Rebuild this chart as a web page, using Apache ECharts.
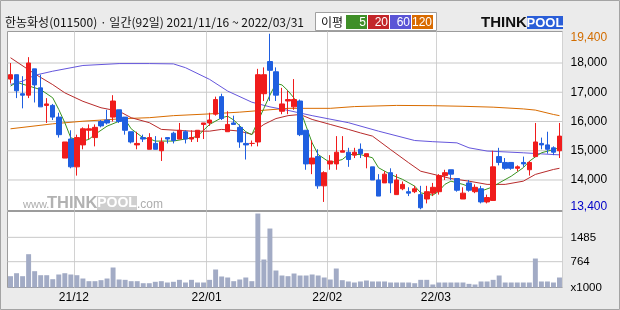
<!DOCTYPE html>
<html><head><meta charset="utf-8">
<script src="https://cdn.jsdelivr.net/npm/echarts@6/dist/echarts.min.js"></script>
<style>html,body{margin:0;padding:0;background:#ebebeb}#c{width:620px;height:310px}</style>
</head><body><div id="c"></div>
<script>
const dates = [
'21/11/16','21/11/17','21/11/18','21/11/19','21/11/22','21/11/23','21/11/24','21/11/25','21/11/26','21/11/29','21/11/30',
'21/12/01','21/12/02','21/12/03','21/12/06','21/12/07','21/12/08','21/12/09','21/12/10','21/12/13','21/12/14','21/12/15','21/12/16','21/12/17','21/12/20','21/12/21','21/12/22','21/12/23','21/12/24','21/12/27','21/12/28','21/12/29','21/12/30',
'22/01/03','22/01/04','22/01/05','22/01/06','22/01/07','22/01/10','22/01/11','22/01/12','22/01/13','22/01/14','22/01/17','22/01/18','22/01/19','22/01/20','22/01/21','22/01/24','22/01/25','22/01/26','22/01/27','22/01/28',
'22/02/03','22/02/04','22/02/07','22/02/08','22/02/09','22/02/10','22/02/11','22/02/14','22/02/15','22/02/16','22/02/17','22/02/18','22/02/21','22/02/22','22/02/23','22/02/24','22/02/25','22/02/28',
'22/03/02','22/03/03','22/03/04','22/03/07','22/03/08','22/03/10','22/03/11','22/03/14','22/03/15','22/03/16','22/03/17','22/03/18','22/03/21','22/03/22','22/03/23','22/03/24','22/03/25','22/03/28','22/03/29','22/03/30','22/03/31'];

const open = [17450,17600,16950,16900,17800,17150,16550,16550,16150,14750,
15400,14450,15200,15700,15450,16000,16050,16150,16400,16150,
15650,15200,15450,15050,15250,15000,15450,15600,15400,15650,
15400,15450,15900,15950,16250,16850,15650,15950,15800,15250,
15250,15300,16950,18050,17700,16350,16700,16500,16700,15700,
14550,14800,13800,14550,14550,14950,14950,14850,15050,14800,
14450,14000,13900,14250,13500,13700,13600,13600,13500,13350,
13550,13600,14150,14350,14050,13350,13900,13600,13700,13250,
13300,14800,14600,14600,14400,14600,14350,14800,15250,15200,
15100,15000];
const close = [17600,17050,16900,18000,17250,16500,16600,16150,15550,15300,
14450,15450,15750,15750,15800,15850,15950,16700,16000,15700,
15300,15250,15400,15450,15050,15300,15400,15350,15700,15400,
15450,15700,15950,16050,16750,16100,15900,15900,15300,15200,
15250,17600,17600,17750,16900,16600,16750,16750,15550,14550,
14750,13800,14250,14650,14950,15000,14700,14950,14900,14900,
14000,13450,14200,13900,14000,13850,13550,13700,13050,13600,
13750,14150,14250,14200,13650,13550,13650,13750,13250,13400,
14450,14600,14400,14400,14450,14550,14600,15300,15200,15050,
14950,15500];
const low = [17300,16800,16450,16800,16650,16500,15950,16050,15450,14750,
14400,14150,15050,15400,15150,15800,15900,16000,15950,15550,
15250,15050,15300,15050,15050,14650,15250,15250,15400,15250,
15300,15300,15400,15850,16200,16050,15650,15900,15100,14700,
15150,15150,16700,16700,16700,16250,16250,16400,15500,14350,
14200,13700,13250,14350,14350,14950,14450,14750,14750,14400,
14000,13450,13900,13550,13500,13650,13450,13550,13000,13200,
13450,13500,14000,14000,13600,13350,13600,13550,13200,13200,
13300,14500,14350,14350,14300,14450,14150,14800,15050,14900,
14850,14750];
const high = [18000,17600,17550,18200,17800,17600,16800,16600,16300,15300,
15700,15550,15800,15900,15900,16050,16400,16900,16400,16150,
15650,15650,15550,15600,15500,15450,15450,15650,15950,15700,
15700,15700,15950,16300,16850,16950,16350,16200,15900,15650,
15350,17800,17850,19000,17850,17150,17050,17450,16750,15700,
15350,15050,14300,14850,15500,15500,15100,15100,15250,14900,
14450,14200,14300,14400,14200,13950,13750,13800,13800,13800,
13900,14200,14350,14350,14050,13750,14000,13850,13800,13500,
15000,15100,14750,14600,14500,14800,14650,15950,15450,15650,
15150,15950];
const volume = [335,423,335,986,483,364,364,246,385,423,
385,364,266,187,187,217,266,592,237,227,
187,187,127,127,169,187,148,169,227,148,
227,148,148,227,533,326,296,187,237,296,
187,2190,829,1746,503,355,335,414,355,355,
385,355,296,237,562,217,178,148,178,207,
178,178,178,148,148,148,148,127,227,227,
89,148,148,148,148,148,108,89,178,178,
227,355,148,148,148,148,148,858,178,178,
148,296];

const ma5Pts = [[0,17210],[1,17340],[5,17090],[7,16810],[8,16410],[9,15960],[10,15440],[12,15330],[13,15390],[14,15560],[16,15840],[18,16010],[19,16070],[20,15750],[22,15440],[23,15410],[24,15330],[27,15330],[30,15440],[31,15500],[33,15900],[35,16130],[36,16180],[37,16050],[38,15850],[39,15650],[40,15550],[41,16000],[42,16450],[43,16900],[44,17300],[45,17250],[46,17050],[47,16800],[48,16410],[49,15840],[50,15270],[51,14870],[53,14590],[55,14700],[56,14870],[58,14870],[60,14760],[61,14420],[63,14190],[65,14020],[67,13790],[68,13560],[70,13480],[71,13620],[72,13850],[73,13960],[75,13850],[77,13700],[78,13620],[80,13770],[81,13900],[83,14130],[85,14420],[86,14640],[87,14790],[88,14930],[90,15040],[91,15100]];
const ma20Pts = [[0,18180],[4,17630],[7,17260],[9,16980],[12,16690],[15,16470],[18,16350],[20,16130],[23,15960],[25,15730],[30,15670],[33,15670],[35,15730],[38,15670],[40,15560],[41,15750],[42,15900],[44,16100],[46,16200],[48,16240],[50,16070],[53,15900],[56,15730],[58,15610],[60,15500],[63,15040],[66,14590],[68,14300],[71,14150],[73,14050],[76,13960],[79,13850],[82,13850],[85,13960],[87,14190],[90,14360],[91,14400]];
const ma60Pts = [[0,17265],[2,17380],[4,17580],[7,17720],[12,17915],[18,17980],[23,17980],[27,17970],[29,17840],[33,17440],[36,17040],[40,16660],[43,16500],[46,16380],[50,16200],[56,15960],[61,15670],[67,15350],[70,15310],[74,15270],[76,15100],[79,14990],[85,14930],[90,14870],[91,14860]];
const ma120Pts = [[0,15750],[7,15920],[12,16010],[19,16100],[23,16130],[27,16200],[33,16260],[38,16320],[46,16450],[53,16450],[57,16510],[64,16550],[70,16540],[75,16520],[80,16490],[85,16430],[87,16390],[90,16240],[91,16200]];

const priceTicks = [14000,15000,16000,17000,18000];
const priceHighLabel = '19,400';
const priceLowLabel = '13,400';
const volTicks = [764,1485];
const volUnitLabel = 'x1000';
const monthTickIdx = [11,33,53,71];
const monthTickLabels = ['21/12','22/01','22/02','22/03'];
const titleText = '한농화성(011500) · 일간(92일) 2021/11/16 ~ 2022/03/31';
const legendNames = ['5','20','60','120'];

const PMIN = 12957, PMAX = 19077, VMAX = 2250;
const C_UP = '#f01c1c', C_DN = '#1f5fe0';
const MA_COL = ['#3a9420','#b82b2b','#6556dc','#d96c00'];
const LEG_COL = ['#3f8f28','#c3262a','#5b55d6','#d96b00'];
const GRID_COL = '#d2d2d2';
const FONT = '"Liberation Sans", Arial, sans-serif';

const candles = open.map((o,i)=>[o, close[i], low[i], high[i]]);
const fmt = v => String(v).replace(/\B(?=(\d{3})+(?!\d))/g, ',');
const lastIdx = dates.length - 1;

const chart = echarts.init(document.getElementById('c'));
const grid0 = {left:7.5, top:31.5, width:555, height:179};
const grid1 = {left:7.5, top:211.5, width:555, height:76};
const splitX = {show:true, interval:(i)=>monthTickIdx.includes(i), lineStyle:{color:GRID_COL, width:1}};

function maSeries(pts, col){
  return {type:'line', data:pts, xAxisIndex:0, yAxisIndex:0, symbol:'none', connectNulls:true,
    lineStyle:{color:col, width:1}, z:3, silent:true};
}
// horizontal grid lines: one flat line per tick value, on an edge-to-edge helper x axis
function gridLineSeries(xIdx, yIdx, ticks){
  return ticks.map(t=>({type:'line', xAxisIndex:xIdx, yAxisIndex:yIdx, data:[[0,t],[lastIdx,t]],
    symbol:'none', silent:true, z:1, lineStyle:{color:'#c8c8c8', width:1}}));
}

const legendGraphics = [];
legendGraphics.push({type:'rect', shape:{x:315.5, y:12.5, width:121, height:18}, style:{fill:'#fff', stroke:'#a0a0a0', lineWidth:1}});
legendGraphics.push({type:'text', x:321, y:22, style:{text:'이평', fill:'#111', font:'12px "Noto Sans CJK KR"', textVerticalAlign:'middle', verticalAlign:'middle'}});
const legX = [346,368,390,412];
const legW = [21,21,21,21];
legendNames.forEach((n,k)=>{
  legendGraphics.push({type:'rect', shape:{x:legX[k], y:15, width:legW[k], height:14}, style:{fill:LEG_COL[k]}});
  legendGraphics.push({type:'text', x:legX[k]+legW[k]-1, y:22.5, style:{text:n, fill:'#fff', font:'12px '+FONT, textAlign:'right', align:'right', textVerticalAlign:'middle', verticalAlign:'middle'}});
});

const baseGraphics = [
  {type:'rect', z:100, shape:{x:0.5, y:0.5, width:619, height:309}, style:{fill:'none', stroke:'#a4a4a4', lineWidth:1}},
  {type:'text', x:5, y:22, style:{text:titleText, fill:'#111', font:'12px "Noto Sans CJK KR"', textVerticalAlign:'middle', verticalAlign:'middle'}},
  ...legendGraphics,
  {type:'text', x:481, y:23, style:{text:'THINK', fill:'#111', font:'bold 15px '+FONT, textVerticalAlign:'middle', verticalAlign:'middle'}},
  {type:'rect', shape:{x:527, y:16, width:36, height:13}, style:{fill:'#2a5ed8'}},
  {type:'text', x:545, y:23, style:{text:'POOL', fill:'#fff', font:'bold 13px '+FONT, textAlign:'center', align:'center', textVerticalAlign:'middle', verticalAlign:'middle'}},
  {type:'text', z:1, x:23, y:205, style:{text:'www.', fill:'#adadad', font:'11px '+FONT, textVerticalAlign:'middle', verticalAlign:'middle'}},
  {type:'text', z:1, x:47, y:203.5, style:{text:'THINK', fill:'#b2b2b2', font:'bold 16.5px '+FONT, textVerticalAlign:'middle', verticalAlign:'middle'}},
  {type:'rect', z:1, shape:{x:97, y:196, width:40, height:14}, style:{fill:'#cfcfcf'}},
  {type:'text', z:1, x:117, y:203.5, style:{text:'POOL', fill:'#fff', font:'bold 14px '+FONT, textAlign:'center', align:'center', textVerticalAlign:'middle', verticalAlign:'middle'}},
  {type:'text', z:1, x:137, y:205, style:{text:'.com', fill:'#adadad', font:'12px '+FONT, textVerticalAlign:'middle', verticalAlign:'middle'}}
];

const hiddenX = (gi)=>({type:'category', gridIndex:gi, data:dates, boundaryGap:false, show:false,
  axisLine:{show:false}, axisTick:{show:false}, axisLabel:{show:false}, splitLine:{show:false}});

const option = {
  animation:false,
  backgroundColor:'#ebebeb',
  grid:[
    Object.assign({show:true, backgroundColor:'#fff', borderColor:'#9c9c9c', borderWidth:1}, grid0),
    Object.assign({show:true, backgroundColor:'#fff', borderColor:'#9c9c9c', borderWidth:1}, grid1)
  ],
  xAxis:[
    {type:'category', gridIndex:0, data:dates, boundaryGap:true, axisLine:{show:false}, axisTick:{show:false}, axisLabel:{show:false}, splitLine:splitX},
    {type:'category', gridIndex:1, data:dates, boundaryGap:true, axisLine:{show:false}, axisTick:{show:false},
      axisLabel:{show:true, interval:(i)=>monthTickIdx.includes(i), formatter:(v,i)=>monthTickLabels[monthTickIdx.indexOf(i)] || '',
        color:'#000', fontFamily:FONT, fontSize:12, margin:4, padding:[0,6,0,0]},
      splitLine:splitX},
    hiddenX(0),
    hiddenX(1)
  ],
  yAxis:[
    {type:'value', gridIndex:0, position:'right', min:PMIN, max:PMAX, scale:true,
      axisLine:{show:false}, axisTick:{show:false}, splitLine:{show:false},
      axisLabel:{show:true, customValues:[PMIN].concat(priceTicks, [PMAX]), margin:8, color:'#000', fontFamily:FONT, fontSize:12,
        formatter:(v)=> v===PMAX ? '{hi|'+priceHighLabel+'}' : v===PMIN ? '{lo|'+priceLowLabel+'}' : fmt(v),
        rich:{hi:{color:'#d26d00', fontFamily:FONT, fontSize:12, padding:[12,0,0,0]}, lo:{color:'#0000c8', fontFamily:FONT, fontSize:12, padding:[0,0,7,0]}}}},
    {type:'value', gridIndex:1, position:'right', min:0, max:VMAX,
      axisLine:{show:false}, axisTick:{show:false}, splitLine:{show:false},
      axisLabel:{show:true, customValues:[0].concat(volTicks), margin:8, color:'#000', fontFamily:FONT, fontSize:11.5,
        formatter:(v)=> v===0 ? volUnitLabel : String(v)}}
  ],
  series:[
    ...gridLineSeries(2, 0, priceTicks),
    ...gridLineSeries(3, 1, volTicks),
    maSeries(ma120Pts, MA_COL[3]),
    maSeries(ma60Pts, MA_COL[2]),
    maSeries(ma20Pts, MA_COL[1]),
    maSeries(ma5Pts, MA_COL[0]),
    {type:'candlestick', xAxisIndex:0, yAxisIndex:0, data:candles, barWidth:5, z:4,
      itemStyle:{color:C_UP, color0:C_DN, borderColor:C_UP, borderColor0:C_DN, borderColorDoji:C_UP, borderWidth:1}},
    {type:'bar', xAxisIndex:1, yAxisIndex:1, data:volume, barCategoryGap:'18%', itemStyle:{color:'#a2abc5'}, z:3}
  ],
  graphic: baseGraphics
};
chart.setOption(option);
</script>
</body></html>
